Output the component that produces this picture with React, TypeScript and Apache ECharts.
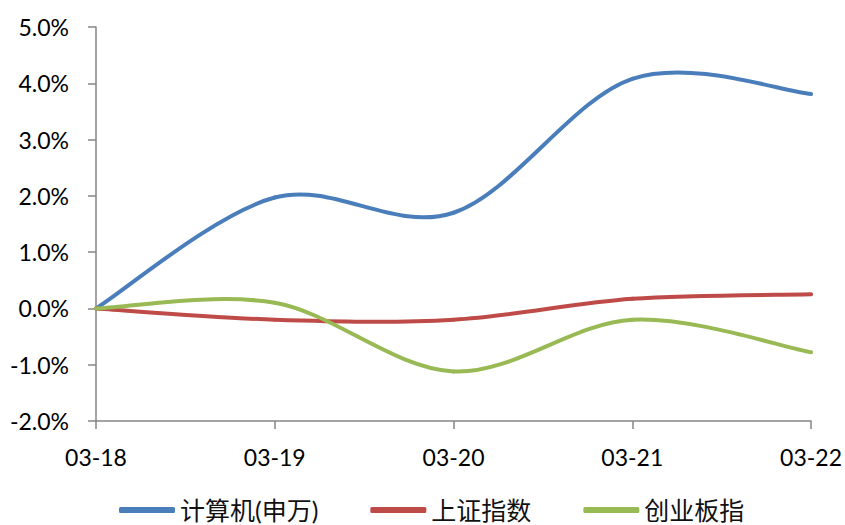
import React, { useEffect, useRef } from "react";
import * as echarts from "echarts";

const categories = ["03-18", "03-19", "03-20", "03-21", "03-22"];
const seriesNames = ["计算机(申万)", "上证指数", "创业板指"];
const computer = [0, 1.97, 1.7, 4.08, 3.81];
const shanghai = [0, -0.2, -0.2, 0.17, 0.25];
const chinext = [0, 0.1, -1.12, -0.2, -0.78];
const colors = ["#4A7EBB", "#BE4B48", "#98B954"];

export default function App() {
  const ref = useRef<HTMLDivElement>(null);
  useEffect(() => {
    const chart = echarts.init(ref.current!, undefined, { renderer: "svg" });
    const font = "Lato, 'Noto Sans CJK SC', sans-serif";
    const data = [computer, shanghai, chinext];
    const makeRender = (arr: number[], color: string) => (params: any, api: any) => {
      const i = params.dataIndex;
      const n = arr.length;
      if (i >= n - 1) return { type: "group", children: [] };
      const pts = arr.map((v, k) => api.coord([k, v]));
      const p0 = pts[i - 1] || pts[i];
      const p1 = pts[i];
      const p2 = pts[i + 1];
      const p3 = pts[i + 2] || pts[i + 1];
      return {
        type: "bezierCurve",
        shape: {
          x1: p1[0],
          y1: p1[1],
          x2: p2[0],
          y2: p2[1],
          cpx1: p1[0] + (p2[0] - p0[0]) / 6,
          cpy1: p1[1] + (p2[1] - p0[1]) / 6,
          cpx2: p2[0] - (p3[0] - p1[0]) / 6,
          cpy2: p2[1] - (p3[1] - p1[1]) / 6,
        },
        style: { stroke: color, lineWidth: 4, fill: "none", lineCap: "round" },
      };
    };
    chart.setOption({
      animation: false,
      color: colors,
      grid: { left: 96, right: 33, top: 27, bottom: 104, containLabel: false },
      legend: {
        top: 497,
        left: 119,
        padding: 0,
        itemWidth: 56,
        itemHeight: 6,
        itemGap: 52,
        icon: "roundRect",
        textStyle: { fontFamily: font, fontSize: 25, lineHeight: 26, color: "#111" },
        data: seriesNames,
      },
      xAxis: {
        type: "category",
        data: categories,
        boundaryGap: false,
        axisLine: { onZero: false, lineStyle: { color: "#868686", width: 1.5 } },
        axisTick: { show: true, alignWithLabel: true, length: 8, lineStyle: { color: "#868686", width: 1.5 } },
        axisLabel: { fontFamily: font, fontSize: 23, color: "#000", margin: 24 },
        splitLine: { show: false },
      },
      yAxis: {
        type: "value",
        min: -2,
        max: 5,
        interval: 1,
        axisLine: { show: true, lineStyle: { color: "#868686", width: 1.5 } },
        axisTick: { show: true, length: 8, lineStyle: { color: "#868686", width: 1.5 } },
        axisLabel: {
          fontFamily: font,
          fontSize: 23,
          color: "#000",
          margin: 27,
          formatter: (v: number) => v.toFixed(1) + "%",
        },
        splitLine: { show: false },
      },
      series: seriesNames.map((name, i) => ({
        name,
        type: "custom",
        data: data[i].map((v, k) => [k, v]),
        encode: { x: 0, y: 1 },
        itemStyle: { color: colors[i] },
        renderItem: makeRender(data[i], colors[i]),
        z: 2 + i,
      })),
    });
    return () => chart.dispose();
  }, []);
  return (
    <div
      ref={ref}
      style={{ position: "absolute", left: 0, top: 0, width: 845, height: 525 }}
    />
  );
}
